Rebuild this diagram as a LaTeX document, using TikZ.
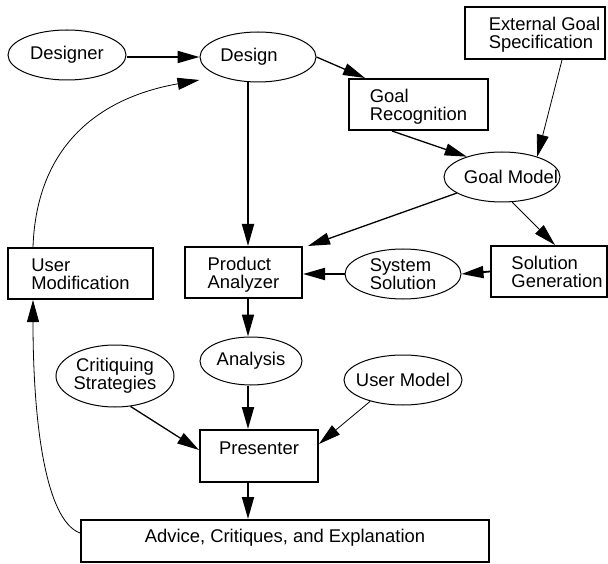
\documentclass[tikz,border=0pt]{standalone}
\usepackage{fontspec}
\setmainfont{Liberation Sans}
\usetikzlibrary{arrows.meta,shapes.geometric}

\begin{document}
\begin{tikzpicture}[x=1pt,y=-1pt,>={Triangle[length=22pt,width=12pt]},
  font=\fontsize{18.4}{18}\selectfont,
  oval/.style={draw,ellipse,line width=1pt,inner xsep=-16pt,inner ysep=0pt,align=center},
  box/.style={draw,rectangle,line width=2pt,inner xsep=2pt,inner ysep=2pt,text height=32pt,text depth=0pt,align=left},
  flow/.style={->,line width=1.8pt},
  feed/.style={->,line width=1.3pt},
  hint/.style={->,line width=0.8pt}]
  \useasboundingbox (0,0) rectangle (608,564);
  % design and goals
  \node[oval,minimum width=118pt,minimum height=50pt] (designer) at (67,55) {Designer};
  \node[oval,minimum width=116pt,minimum height=50pt] (design) at (258,57) {\hspace*{-18pt}Design};
  \node[box,minimum width=140pt,minimum height=52pt] (extgoal) at (535,33) {\hspace*{19pt}External Goal\\\hspace*{19pt}Specification};
  \node[box,minimum width=139pt,minimum height=51pt] (goalrec) at (418.5,104.5) {Goal\\Recognition};
  \node[oval,minimum width=116pt,minimum height=50pt] (goalmodel) at (502,177) {Goal Model\hspace*{-18pt}};
  % middle row
  \node[box,minimum width=145pt,minimum height=51pt] (usermod) at (80.5,273.5) {User\\Modification};
  \node[box,minimum width=117pt,minimum height=51pt] (analyzer) at (243.5,272.5) {Product\\Analyzer};
  \node[oval,align=left,minimum width=116pt,minimum height=50pt] (syssol) at (403,274) {System\\Solution};
  \node[box,minimum width=116pt,minimum height=51pt] (solgen) at (549,271.5) {\hspace*{16pt}Solution\\\hspace*{16pt}Generation};
  % critiquing part
  \node[oval,minimum width=102pt,minimum height=48pt] (analysis) at (251,361) {Analysis};
  \node[oval,minimum width=118pt,minimum height=62pt] (critiq) at (115,376) {Critiquing\\Strategies};
  \node[oval,minimum width=118pt,minimum height=50pt] (usermodel) at (403,380) {User Model};
  \node[box,minimum width=118pt,minimum height=52pt,text height=14pt,text depth=18pt] (presenter) at (259,456) {Presenter};
  \node[box,minimum width=408pt,minimum height=42pt,text height=14pt,text depth=12pt] (advice) at (285,541) {Advice, Critiques, and Explanation};

  % arrows
  \draw[flow] (designer.east |- design.west) -- (design.west);
  \draw[flow] ([xshift=-10pt]design.south) -- ([xshift=-10pt]design.south |- analyzer.north);
  \draw[feed] (design.east) -- ([xshift=17pt]goalrec.north west);
  \draw[hint] ([xshift=27pt]extgoal.south) -- (goalmodel.30);
  \draw[feed] ([xshift=-26.5pt]goalrec.south) -- (goalmodel.150);
  \draw[feed] (goalmodel) -- ([xshift=5pt]analyzer.north east);
  \draw[hint] (goalmodel.-68) -- ([xshift=6pt]solgen.north);
  \draw[flow] (solgen.west) -- (syssol.east);
  \draw[flow] (syssol.west) -- (syssol.west -| analyzer.east);
  \draw[flow] ([xshift=4.5pt]analyzer.south) -- ([xshift=4.5pt]analyzer.south |- analysis.north);
  \draw[flow] ([xshift=-3pt]analysis.south) -- ([xshift=-3pt]analysis.south |- presenter.north);
  \draw[feed] (critiq.-63) -- ([yshift=6pt]presenter.west);
  \draw[hint] (usermodel.-147) -- ([yshift=-15pt]presenter.north east);
  \draw[flow] ([xshift=-11pt]presenter.south) -- ([xshift=-11pt]presenter.south |- advice.north);
  % loop back to the designer
  \draw[hint] ([yshift=8pt]advice.west) .. controls (45,520) and (33,420) .. ([xshift=-47.5pt]usermod.south);
  \draw[hint] ([xshift=-47.5pt]usermod.north) to[out=88,in=190,looseness=1.1] ([yshift=-23pt]design.west);
\end{tikzpicture}
\end{document}
